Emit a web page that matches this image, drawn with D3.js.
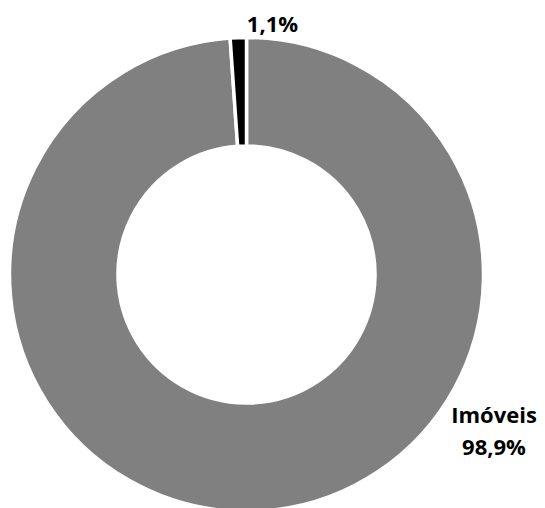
<!DOCTYPE html>
<html><head><meta charset="utf-8">
<script src="https://cdn.jsdelivr.net/npm/d3@7"></script>
<style>body{margin:0;background:#fff}</style>
</head><body>
<svg id="c" width="545" height="508"></svg>
<script>
const categories = ["Imóveis", "Outros"];
const values = [98.9, 1.1];
const labels = ["Imóveis\n98,9%", "1,1%"];
const colors = ["#808080", "#000000"];

const svg = d3.select("#c");
const cx = 246.5, cy = 274.5, rOuter = 237, rInner = 128.5;
const g = svg.append("g").attr("transform", `translate(${cx},${cy})`);
const pie = d3.pie().sort(null).value(d => d)(values);
const arc = d3.arc().innerRadius(rInner).outerRadius(rOuter);
g.selectAll("path").data(pie).join("path")
  .attr("d", arc)
  .attr("fill", (d, i) => colors[i])
  .attr("stroke", "#fff").attr("stroke-width", 3.5).attr("stroke-linejoin", "round");

const font = "'Open Sans', sans-serif";
const lab = [
  {x: 494, y: 423, lines: labels[0].split("\n")},
  {x: 272.5, y: 32, lines: labels[1].split("\n")}
];
lab.forEach(l => {
  const t = svg.append("text").attr("x", l.x).attr("y", l.y)
    .attr("text-anchor", "middle").attr("font-family", font)
    .attr("font-weight", "bold").attr("font-size", 22).attr("fill", "#000");
  l.lines.forEach((s, i) => t.append("tspan").attr("x", l.x).attr("dy", i ? 31.5 : 0).text(s));
});
</script>
</body></html>
